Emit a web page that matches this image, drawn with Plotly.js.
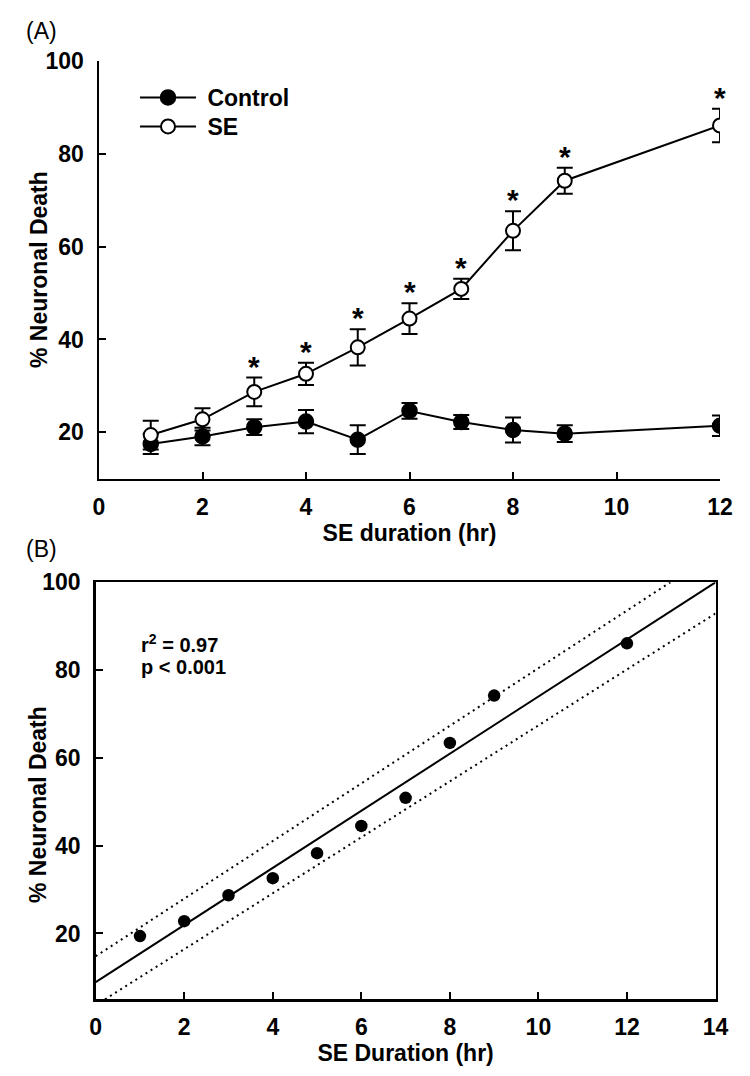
<!DOCTYPE html>
<html><head><meta charset="utf-8">
<script src="https://cdn.plot.ly/plotly-3.0.1.min.js"></script>
<style>html,body{margin:0;padding:0;background:#fff}#chart{width:750px;height:1076px}</style>
</head><body><div id="chart"></div>
<script>
// ---- data ----
const hours = [1, 2, 3, 4, 5, 6, 7, 8, 9, 12];
const controlMean = [17.5, 19.1, 21.1, 22.3, 18.4, 24.6, 22.2, 20.5, 19.7, 21.4];
const controlErr  = [2.2, 1.9, 1.7, 2.5, 3.1, 1.7, 1.5, 2.7, 1.8, 2.2];
const seMean = [19.4, 22.8, 28.7, 32.6, 38.3, 44.5, 50.9, 63.4, 74.2, 86.1];
const seErr  = [3.1, 2.4, 3.1, 2.4, 3.9, 3.3, 2.2, 4.2, 2.8, 3.6];
const significant = [false, false, true, true, true, true, true, true, true, true];
const seriesNames = ["Control", "SE"];
const xTicksA = [0, 2, 4, 6, 8, 10, 12];
const yTicks = [20, 40, 60, 80, 100];
const xTicksB = [0, 2, 4, 6, 8, 10, 12, 14];
// regression (panel B)
const fitX = [0, 14];
const fitY = [8.9, 100];
const upperBandX = [0, 12.98];
const upperBandY = [14.8, 100];
const lowerBandX = [0.21, 14];
const lowerBandY = [5, 92.9];
const statText = ["r<sup>2</sup> = 0.97", "p < 0.001"];
const yTitle = "% Neuronal Death";

const FONT = "Liberation Sans, Arial, sans-serif";
const black = "#000";
const NB = "\u00a0";

const traces = [
  {x: hours, y: controlMean, name: NB + seriesNames[0], type: "scatter", mode: "lines+markers",
   xaxis: "x", yaxis: "y", legend: "legend",
   line: {color: black, width: 2},
   marker: {symbol: "circle", size: 15, color: black, line: {color: black, width: 1.5}},
   error_y: {type: "data", array: controlErr, visible: true, color: black, thickness: 2, width: 8}},
  {x: hours, y: seMean, name: NB + seriesNames[1], type: "scatter", mode: "lines+markers",
   xaxis: "x", yaxis: "y", legend: "legend2",
   line: {color: black, width: 2},
   marker: {symbol: "circle", size: 14, color: "#fff", line: {color: black, width: 2}},
   error_y: {type: "data", array: seErr, visible: true, color: black, thickness: 2, width: 8}},
  {x: upperBandX, y: upperBandY, type: "scatter", mode: "lines", showlegend: false,
   xaxis: "x2", yaxis: "y2", line: {color: black, width: 2, dash: "2px,4px"}},
  {x: lowerBandX, y: lowerBandY, type: "scatter", mode: "lines", showlegend: false,
   xaxis: "x2", yaxis: "y2", line: {color: black, width: 2, dash: "2px,4px"}},
  {x: fitX, y: fitY, type: "scatter", mode: "lines", showlegend: false,
   xaxis: "x2", yaxis: "y2", line: {color: black, width: 2}},
  {x: hours, y: seMean, type: "scatter", mode: "markers", showlegend: false,
   xaxis: "x2", yaxis: "y2", marker: {symbol: "circle", size: 12.5, color: black}}
];

const annotations = [];
hours.forEach((h, i) => {
  if (significant[i]) {
    annotations.push({x: h, y: seMean[i] + seErr[i], xref: "x", yref: "y",
      text: "*", showarrow: false, yanchor: "bottom", yshift: -7,
      font: {family: FONT, size: 30, color: black, weight: "bold"}});
  }
});
annotations.push({x: 24/750, y: 1 - 31/1076, xref: "paper", yref: "paper", text: "(A)",
  showarrow: false, xanchor: "left", yanchor: "middle", font: {family: FONT, size: 23, color: black}});
annotations.push({x: 24/750, y: 1 - 549/1076, xref: "paper", yref: "paper", text: "(B)",
  showarrow: false, xanchor: "left", yanchor: "middle", font: {family: FONT, size: 23, color: black}});
statText.forEach((t, i) => {
  annotations.push({x: 139/750, y: 1 - (643 + i * 24)/1076, xref: "paper", yref: "paper", text: t,
    showarrow: false, xanchor: "left", yanchor: "middle", font: {family: FONT, size: 20, color: black, weight: "bold"}});
});
// y-axis titles as rotated annotations
annotations.push({x: 39/750, y: 1 - 270/1076, xref: "paper", yref: "paper", text: yTitle, textangle: -90,
  showarrow: false, xanchor: "center", yanchor: "middle", font: {family: FONT, size: 23, color: black, weight: "bold"}});
annotations.push({x: 38/750, y: 1 - 805/1076, xref: "paper", yref: "paper", text: yTitle, textangle: -90,
  showarrow: false, xanchor: "center", yanchor: "middle", font: {family: FONT, size: 23, color: black, weight: "bold"}});

function tickFont() { return {family: FONT, size: 23, color: black, weight: "bold"}; }
function xTitleFont() { return {family: FONT, size: 23, color: black, weight: "bold"}; }
function legendFont() { return {family: FONT, size: 23, color: black, weight: "bold"}; }
function axis(extra) {
  return Object.assign({showgrid: false, zeroline: false, showline: true, linecolor: black, linewidth: 2.5,
    ticks: "inside", ticklen: 7, tickwidth: 2, tickcolor: black, tickfont: tickFont()}, extra);
}

const layout = {
  width: 750, height: 1076,
  margin: {l: 0, r: 0, t: 0, b: 0},
  paper_bgcolor: "#fff", plot_bgcolor: "#fff",
  font: {family: FONT, color: black, size: 21},
  showlegend: true,
  legend: {x: 135/750, y: 1 - 76/1076, xanchor: "left", yanchor: "top", bgcolor: "rgba(0,0,0,0)",
    font: legendFont(), itemwidth: 56},
  legend2: {x: 135/750, y: 1 - 105/1076, xanchor: "left", yanchor: "top", bgcolor: "rgba(0,0,0,0)",
    font: legendFont(), itemwidth: 56},
  xaxis: axis({domain: [99/750, 720/750], range: [0, 12], tickvals: xTicksA,
    anchor: "y", ticklabelstandoff: 6,
    title: {text: "SE duration (hr)", font: xTitleFont(), standoff: 4}}),
  yaxis: axis({domain: [1 - 478.7/1076, 1 - 61/1076], range: [10, 100], tickvals: yTicks,
    anchor: "x", ticklabelstandoff: 8}),
  xaxis2: axis({domain: [95.7/750, 715.5/750], range: [0, 14], tickvals: xTicksB,
    anchor: "y2", mirror: true, ticklabelstandoff: 6,
    title: {text: "SE Duration (hr)", font: xTitleFont(), standoff: 0}}),
  yaxis2: axis({domain: [1 - 999.3/1076, 1 - 582.3/1076], range: [5, 100], tickvals: yTicks,
    anchor: "x2", mirror: true, ticklabelstandoff: 8}),
  annotations: annotations
};

Plotly.newPlot("chart", traces, layout, {displayModeBar: false, staticPlot: true});
</script></body></html>
